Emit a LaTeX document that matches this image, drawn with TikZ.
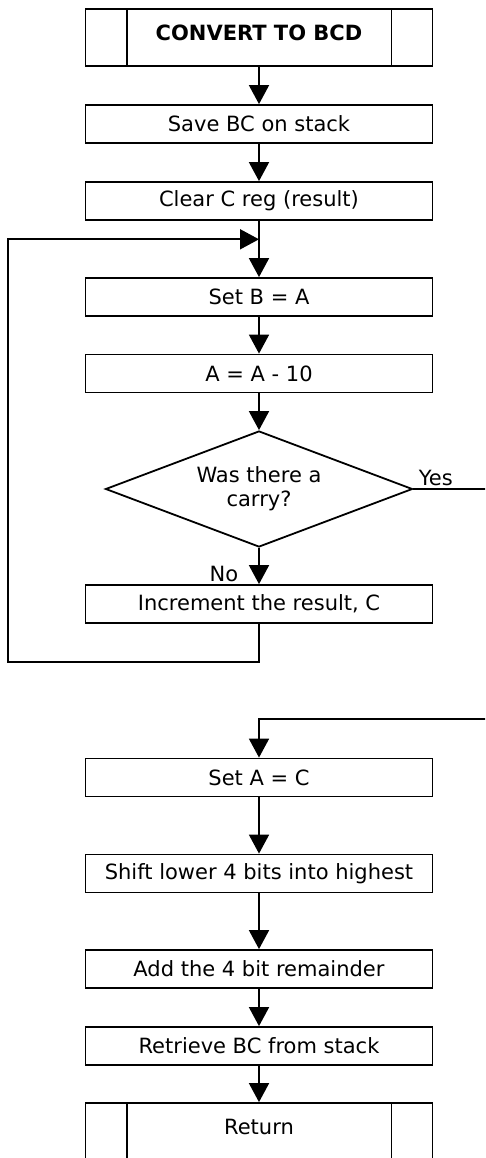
\documentclass[tikz,border=0pt]{standalone}
\usepackage{fontspec}
\setmainfont{DejaVu Sans}
\usetikzlibrary{shapes.geometric,arrows.meta}
\begin{document}
\begin{tikzpicture}[x=1pt,y=-1pt, line width=1.8pt,
  font=\fontsize{21}{24}\selectfont,
  box/.style={draw, rectangle, minimum width=347pt, minimum height=38pt, inner sep=0pt},
  term/.style={draw, rectangle, minimum width=347pt, minimum height=57pt, inner sep=0pt},
  dec/.style={draw, diamond, aspect=2.65, minimum width=307pt, minimum height=116pt, inner sep=0pt, align=center},
  arr/.style={-{Triangle[width=20pt,length=19pt]}}]
\useasboundingbox (0,0) rectangle (485,1158);
\clip (0,0) rectangle (485,1158);

\node[term, label={[yshift=4.5pt]center:{\bfseries CONVERT TO BCD}}] (start) at (259,37.5) {};
\draw ([xshift=42pt]start.north west) -- ([xshift=42pt]start.south west);
\draw ([xshift=-42pt]start.north east) -- ([xshift=-42pt]start.south east);

\node[box] (save) at (259,124) {Save BC on stack};
\node[box] (clear) at (259,201) {Clear C reg (result)};
\node[box] (setB) at (259,297) {Set B = A};
\node[box] (sub) at (259,373.5) {A = A - 10};
\node[dec] (dec) at (259,489) {Was there a\\carry?};
\node[box] (inc) at (259,604) {Increment the result, C};
\node[box] (setA) at (259,777.5) {Set A = C};
\node[box] (shift) at (259,873.5) {Shift lower 4 bits into highest};
\node[box] (add) at (259,969) {Add the 4 bit remainder};
\node[box] (ret) at (259,1046) {Retrieve BC from stack};
\node[draw, rectangle, minimum width=347pt, minimum height=60pt, inner sep=0pt,
      label={[yshift=6pt]center:{Return}}] (return) at (259,1133) {};
\draw ([xshift=42pt]return.north west) -- ([xshift=42pt]return.south west);
\draw ([xshift=-42pt]return.north east) -- ([xshift=-42pt]return.south east);

\node[anchor=base east, inner sep=0pt] (nolab) at (239,581) {No};
\node[anchor=base west, inner sep=0pt] (yeslab) at (418,485) {Yes};

\coordinate (j1) at (259,239.3);
\coordinate (lb) at (8,661.7);
\coordinate (r1) at (492,489);
\coordinate (r2) at (492,719);

\draw[arr] (start) -- (save);
\draw[arr] (save) -- (clear);
\draw[arr] (clear) -- (setB);
\draw[arr] (inc.south) |- (lb) |- (j1);
\draw[arr] (setB) -- (sub);
\draw[arr] (sub) -- (dec);
\draw[arr] (dec) -- (inc);
\draw[arr] (dec.east) -- (r1) -- (r2) -| (setA.north);
\draw[arr] (setA) -- (shift);
\draw[arr] (shift) -- (add);
\draw[arr] (add) -- (ret);
\draw[arr] (ret) -- (return);
\end{tikzpicture}
\end{document}
